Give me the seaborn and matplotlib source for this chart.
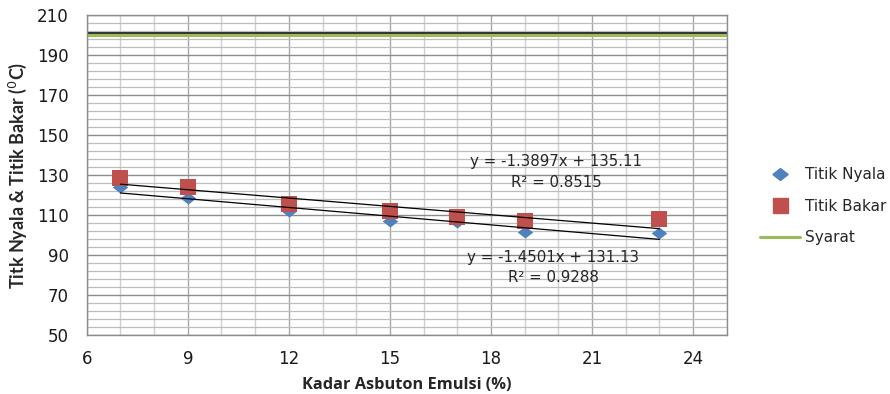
import matplotlib
matplotlib.use("Agg")
import matplotlib.pyplot as plt
from matplotlib.lines import Line2D
import seaborn as sns
import numpy as np
import pandas as pd

# ---- data ----
kadar = [7, 9, 12, 15, 17, 19, 23]
titik_nyala = [123.8, 118.3, 112.0, 107.2, 106.7, 101.7, 101.2]
titik_bakar = [128.7, 124.0, 115.3, 112.0, 109.0, 107.0, 107.8]
syarat = 200
fit_nyala = (-1.4501, 131.13)
fit_bakar = (-1.3897, 135.11)
r2_nyala = 0.9288
r2_bakar = 0.8515
x_ticks = [6, 9, 12, 15, 18, 21, 24]
y_ticks = [50, 70, 90, 110, 130, 150, 170, 190, 210]

sns.set_style("white")
plt.rcParams["font.family"] = ["DejaVu Sans"]

BLUE = "#4F81BD"
RED = "#C0504D"
GREEN = "#9BBB59"

fig = plt.figure(figsize=(8.9, 3.94), dpi=100)
ax = fig.add_axes([0.0975, 0.150, 0.719, 0.812])

df = pd.DataFrame({"x": kadar, "nyala": titik_nyala, "bakar": titik_bakar})

diamond = [(-1, 0), (0, 0.78), (1, 0), (0, -0.78), (-1, 0)]
sns.scatterplot(data=df, x="x", y="nyala", marker=diamond, s=125, color=BLUE,
                linewidth=0, ax=ax, zorder=3)
sns.scatterplot(data=df, x="x", y="bakar", marker="s", s=118, color=RED,
                linewidth=0, ax=ax, zorder=3)

# trend lines (from printed equations)
xr = np.array([min(kadar), max(kadar)])
for m, c in (fit_nyala, fit_bakar):
    tdf = pd.DataFrame({"x": xr, "y": m * xr + c})
    sns.lineplot(data=tdf, x="x", y="y", color="black", lw=0.9, ax=ax, zorder=4)

# Syarat line
ax.axhline(syarat + 0.8, color="#303030", lw=1.4, zorder=2)
ax.axhline(syarat, color=GREEN, lw=2.2, zorder=2)

ax.set_xlim(6, 25)
ax.set_ylim(50, 210)
ax.set_xticks(x_ticks)
ax.set_xticks(range(6, 26), minor=True)
ax.set_yticks(y_ticks)
ax.set_yticks(range(50, 211, 4), minor=True)

ax.grid(True, which="major", axis="y", color="#8C8C8C", lw=1.0, zorder=0)
ax.grid(True, which="minor", axis="y", color="#BDBDBD", lw=0.9, zorder=0)
ax.grid(True, which="major", axis="x", color="#A8A8A8", lw=1.0, zorder=0)
ax.grid(True, which="minor", axis="x", color="#D0D0D0", lw=1.0, zorder=0)
ax.set_axisbelow(True)

for s in ax.spines.values():
    s.set_color("#8C8C8C")
    s.set_linewidth(1.0)

ax.tick_params(axis="both", which="major", direction="out", length=5,
               width=1, color="#8C8C8C", labelsize=12, labelcolor="#1A1A1A")
ax.tick_params(axis="x", which="major", pad=6)
ax.tick_params(axis="y", which="major", pad=8)
ax.tick_params(which="minor", length=0)

ax.set_xlabel("Kadar Asbuton Emulsi (%)", fontsize=11.8, fontweight="bold",
              family=["Open Sans", "DejaVu Sans"], labelpad=6)
ax.set_ylabel("Titk Nyala & Titik Bakar ($^{0}$C)", fontsize=13,
              fontweight="bold", family=["Lato", "DejaVu Sans"], labelpad=6)

fs = 10.8
ax.text(19.93, 136.5, f"y = {fit_bakar[0]}x + {fit_bakar[1]}", ha="center",
        va="center", fontsize=fs, zorder=5)
ax.text(19.93, 126.0, f"R² = {r2_bakar}", ha="center", va="center",
        fontsize=fs, zorder=5)
ax.text(19.85, 88.5, f"y = {fit_nyala[0]}x + {fit_nyala[1]}", ha="center",
        va="center", fontsize=fs, zorder=5)
ax.text(19.85, 78.5, f"R² = {r2_nyala:.4f}", ha="center", va="center",
        fontsize=fs, zorder=5)

handles = [
    Line2D([], [], marker=diamond, ls="none", color=BLUE, markersize=11),
    Line2D([], [], marker="s", ls="none", color=RED, markersize=10.8),
    Line2D([], [], color=GREEN, lw=2.2),
]
fig.legend(handles, ["Titik Nyala", "Titik Bakar", "Syarat"],
           loc="upper left", bbox_to_anchor=(0.8475, 0.592), frameon=False,
           fontsize=11, handlelength=2.6, handletextpad=0.3,
           labelspacing=1.1, borderaxespad=0)

fig.savefig("out.png", dpi=100)
